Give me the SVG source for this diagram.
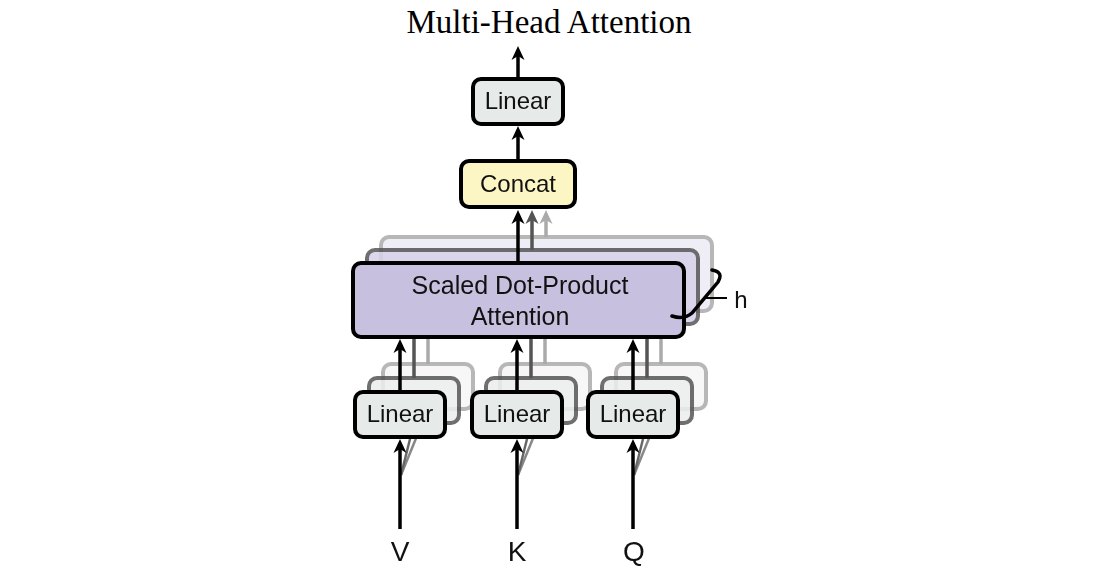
<svg xmlns="http://www.w3.org/2000/svg" width="1097" height="578" viewBox="0 0 1097 578">
<style>
.lbl{font-family:"Liberation Sans",Arial,sans-serif;font-size:24px;fill:#111;text-anchor:middle}
.io{font-family:"Liberation Sans",Arial,sans-serif;font-size:28px;fill:#111;text-anchor:middle}
.title{font-family:"Liberation Serif","Times New Roman",serif;font-size:33px;fill:#000;text-anchor:middle}
.box{stroke:#000;stroke-width:4}
.lin{fill:#e6eae8}
.back2{stroke:#555;stroke-width:4;opacity:0.85}
.back3{stroke:#999;stroke-width:4;opacity:0.7}
.arr{stroke:#000;stroke-width:3.5;fill:none;marker-end:url(#ah)}
.arr2{stroke:#555;stroke-width:3.5;fill:none;marker-end:url(#ah2)}
.arr3{stroke:#aaa;stroke-width:3.5;fill:none;marker-end:url(#ah3)}
.ln2{stroke:#555;stroke-width:3.5;fill:none}
.ln3{stroke:#aaa;stroke-width:3.5;fill:none}
</style>
<defs>
<filter id="bl" x="-10%" y="-10%" width="120%" height="120%"><feGaussianBlur stdDeviation="0.7"/></filter>
<marker id="ah" markerUnits="userSpaceOnUse" viewBox="-15 -7 16 14" markerWidth="16" markerHeight="14" refX="-5" refY="0" orient="auto"><path d="M0,0 L-14,-6.5 L-10,0 L-14,6.5 Z" fill="#000"/></marker>
<marker id="ah2" markerUnits="userSpaceOnUse" viewBox="-15 -7 16 14" markerWidth="16" markerHeight="14" refX="-5" refY="0" orient="auto"><path d="M0,0 L-14,-6.5 L-10,0 L-14,6.5 Z" fill="#555"/></marker>
<marker id="ah3" markerUnits="userSpaceOnUse" viewBox="-15 -7 16 14" markerWidth="16" markerHeight="14" refX="-5" refY="0" orient="auto"><path d="M0,0 L-14,-6.5 L-10,0 L-14,6.5 Z" fill="#aaa"/></marker>
</defs>
<rect width="1097" height="578" fill="#fff"/>
<text class="title" x="549" y="33">Multi-Head Attention</text>

<g id="back-heads" filter="url(#bl)">
  <rect class="back3" x="381" y="237" width="331" height="74" rx="8" fill="#e8e5f2"/>
  <rect class="back3" x="383" y="364" width="90" height="45" rx="8" fill="#f2f4f3"/>
  <rect class="back3" x="500" y="364" width="90" height="45" rx="8" fill="#f2f4f3"/>
  <rect class="back3" x="616" y="364" width="90" height="45" rx="8" fill="#f2f4f3"/>
  <rect class="back2" x="367" y="250" width="331" height="74" rx="8" fill="#d6d0e9"/>
  <rect class="back2" x="369" y="378" width="90" height="45" rx="8" fill="#eceeed"/>
  <rect class="back2" x="486" y="378" width="90" height="45" rx="8" fill="#eceeed"/>
  <rect class="back2" x="602" y="378" width="90" height="45" rx="8" fill="#eceeed"/>
</g>

<g id="connectors">
  <g filter="url(#bl)">
    <line class="arr3" x1="546" y1="237" x2="546" y2="215"/>
    <line class="arr2" x1="532" y1="250" x2="532" y2="215"/>
    <line class="ln3" x1="428" y1="364" x2="428" y2="311"/>
    <line class="ln2" x1="414" y1="378" x2="414" y2="324"/>
    <line class="ln3" x1="545" y1="364" x2="545" y2="311"/>
    <line class="ln2" x1="531" y1="378" x2="531" y2="324"/>
    <line class="ln3" x1="661" y1="364" x2="661" y2="311"/>
    <line class="ln2" x1="647" y1="378" x2="647" y2="324"/>
    <line stroke="#888" stroke-width="2.5" x1="401" y1="475" x2="428" y2="409"/>
    <line stroke="#666" stroke-width="2.5" x1="401" y1="475" x2="414" y2="423"/>
    <line stroke="#888" stroke-width="2.5" x1="518" y1="475" x2="545" y2="409"/>
    <line stroke="#666" stroke-width="2.5" x1="518" y1="475" x2="531" y2="423"/>
    <line stroke="#888" stroke-width="2.5" x1="634" y1="475" x2="661" y2="409"/>
    <line stroke="#666" stroke-width="2.5" x1="634" y1="475" x2="647" y2="423"/>
  </g>
  <line class="arr" x1="518" y1="79" x2="518" y2="51"/>
  <line class="arr" x1="518" y1="161" x2="518" y2="131"/>
  <line class="arr" x1="518" y1="263" x2="518" y2="215"/>
  <line class="arr" x1="400" y1="392" x2="400" y2="344"/>
  <line class="arr" x1="517" y1="392" x2="517" y2="344"/>
  <line class="arr" x1="633" y1="392" x2="633" y2="344"/>
  <line class="arr" x1="400" y1="529" x2="400" y2="444"/>
  <line class="arr" x1="517" y1="529" x2="517" y2="444"/>
  <line class="arr" x1="633" y1="529" x2="633" y2="444"/>
</g>

<g id="linear-out">
  <rect class="box lin" x="473" y="79" width="90" height="45" rx="8"/>
  <text class="lbl" x="518" y="109">Linear</text>
</g>
<g id="concat">
  <rect class="box" x="461" y="161" width="114" height="46" rx="8" fill="#fcf6c4"/>
  <text class="lbl" x="518" y="192">Concat</text>
</g>
<g id="sdpa">
  <rect class="box" x="353" y="263" width="331" height="74" rx="8" fill="#c7c0de"/>
  <text class="lbl" x="520" y="294" style="font-size:25px">Scaled Dot-Product</text>
  <text class="lbl" x="520" y="325" style="font-size:25px">Attention</text>
</g>
<g id="heads-brace">
  <path d="M712,270 Q724,272 718,282 L692,313 Q684,320 672,316" fill="none" stroke="#000" stroke-width="3.5" stroke-linecap="round"/>
  <line x1="704" y1="298" x2="727" y2="298" stroke="#000" stroke-width="2"/>
  <text class="lbl" x="741" y="308" style="font-size:24px">h</text>
</g>
<g id="linear-v">
  <rect class="box lin" x="355" y="392" width="90" height="45" rx="8"/>
  <text class="lbl" x="400" y="422">Linear</text>
</g>
<g id="linear-k">
  <rect class="box lin" x="472" y="392" width="90" height="45" rx="8"/>
  <text class="lbl" x="517" y="422">Linear</text>
</g>
<g id="linear-q">
  <rect class="box lin" x="588" y="392" width="90" height="45" rx="8"/>
  <text class="lbl" x="633" y="422">Linear</text>
</g>
<g id="inputs">
  <text class="io" x="400" y="561">V</text>
  <text class="io" x="517" y="561">K</text>
  <text class="io" x="634" y="561">Q</text>
</g>
</svg>
